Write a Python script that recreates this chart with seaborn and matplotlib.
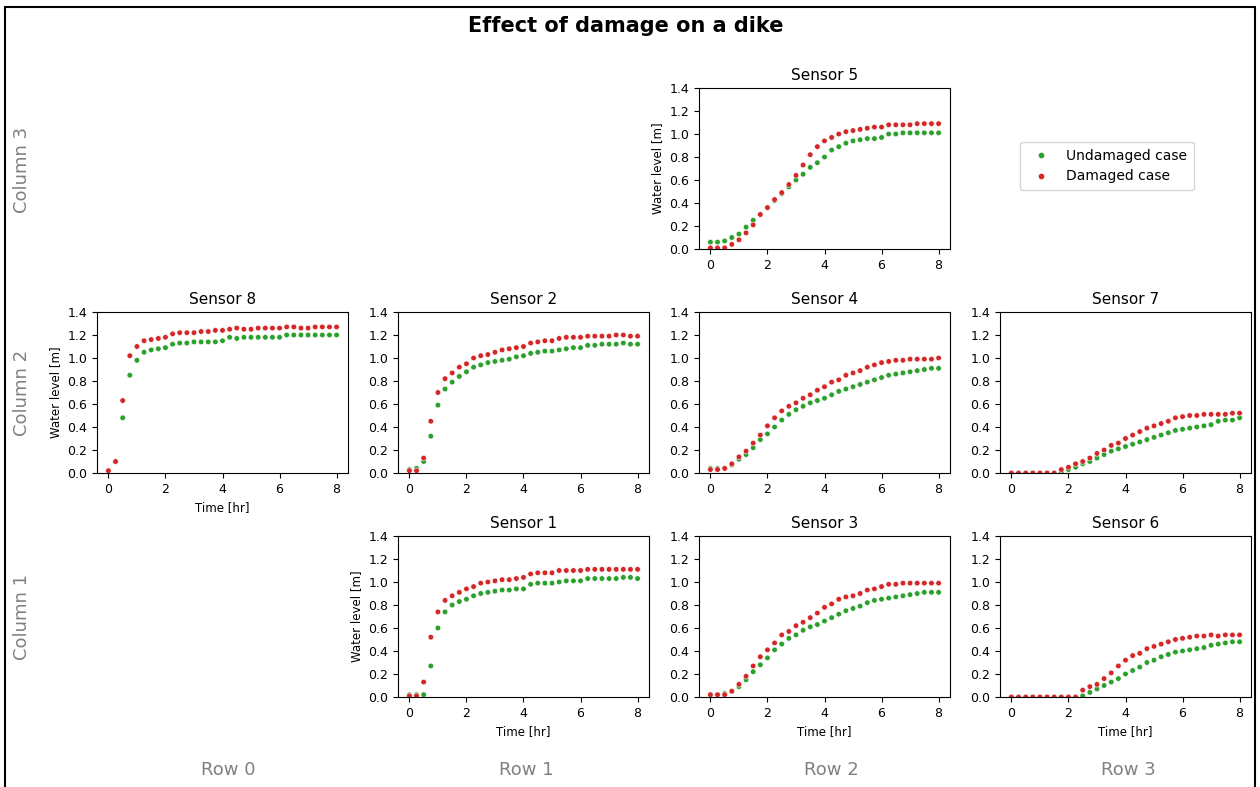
import numpy as np
import pandas as pd
import matplotlib
matplotlib.use("Agg")
import matplotlib.pyplot as plt
from matplotlib.lines import Line2D
import seaborn as sns

# Time axis (hours), sampled every 15 minutes
time_hr = np.arange(0, 8.01, 0.25)

# Water level [m] per sensor: undamaged vs damaged dike
s1_undamaged = [0.02, 0.02, 0.02, 0.27, 0.60, 0.74, 0.80, 0.83, 0.85, 0.88, 0.90, 0.91, 0.92, 0.93, 0.93, 0.94, 0.94,
                0.98, 0.99, 0.99, 0.99, 1.00, 1.01, 1.01, 1.01, 1.03, 1.03, 1.03, 1.03, 1.03, 1.04, 1.04, 1.03]
s1_damaged = [0.01, 0.01, 0.13, 0.52, 0.74, 0.84, 0.88, 0.91, 0.94, 0.96, 0.99, 1.00, 1.01, 1.02, 1.02, 1.03, 1.04,
              1.07, 1.08, 1.08, 1.08, 1.10, 1.10, 1.10, 1.10, 1.11, 1.11, 1.11, 1.11, 1.11, 1.11, 1.11, 1.11]

s2_undamaged = [0.03, 0.04, 0.10, 0.32, 0.59, 0.73, 0.79, 0.84, 0.88, 0.92, 0.94, 0.96, 0.97, 0.98, 0.99, 1.01, 1.02,
                1.04, 1.05, 1.06, 1.06, 1.07, 1.08, 1.09, 1.09, 1.11, 1.11, 1.12, 1.12, 1.12, 1.13, 1.12, 1.12]
s2_damaged = [0.02, 0.02, 0.13, 0.45, 0.70, 0.82, 0.87, 0.92, 0.95, 1.00, 1.02, 1.03, 1.05, 1.07, 1.08, 1.09, 1.10,
              1.13, 1.14, 1.15, 1.15, 1.17, 1.18, 1.18, 1.18, 1.19, 1.19, 1.19, 1.19, 1.20, 1.20, 1.19, 1.19]

s3_undamaged = [0.02, 0.02, 0.03, 0.05, 0.09, 0.15, 0.22, 0.28, 0.34, 0.41, 0.46, 0.51, 0.54, 0.58, 0.61, 0.63, 0.66,
                0.69, 0.72, 0.75, 0.77, 0.79, 0.82, 0.84, 0.85, 0.86, 0.87, 0.88, 0.89, 0.90, 0.91, 0.91, 0.91]
s3_damaged = [0.02, 0.02, 0.02, 0.05, 0.11, 0.18, 0.27, 0.35, 0.41, 0.47, 0.54, 0.57, 0.62, 0.65, 0.69, 0.73, 0.78,
              0.81, 0.85, 0.87, 0.88, 0.90, 0.93, 0.94, 0.96, 0.98, 0.98, 0.99, 0.99, 0.99, 0.99, 0.99, 0.99]

s4_undamaged = [0.04, 0.04, 0.04, 0.07, 0.12, 0.16, 0.22, 0.29, 0.34, 0.40, 0.46, 0.51, 0.55, 0.58, 0.61, 0.63, 0.65,
                0.68, 0.71, 0.73, 0.75, 0.77, 0.79, 0.81, 0.83, 0.85, 0.86, 0.87, 0.88, 0.89, 0.90, 0.91, 0.91]
s4_damaged = [0.03, 0.03, 0.04, 0.08, 0.14, 0.19, 0.26, 0.33, 0.41, 0.48, 0.54, 0.58, 0.61, 0.65, 0.68, 0.72, 0.75,
              0.79, 0.81, 0.85, 0.87, 0.89, 0.92, 0.94, 0.96, 0.97, 0.98, 0.98, 0.99, 0.99, 0.99, 0.99, 1.00]

s5_undamaged = [0.06, 0.06, 0.07, 0.10, 0.13, 0.19, 0.25, 0.30, 0.36, 0.42, 0.48, 0.54, 0.60, 0.65, 0.71, 0.75, 0.80,
                0.86, 0.89, 0.92, 0.94, 0.95, 0.96, 0.96, 0.97, 1.00, 1.00, 1.01, 1.01, 1.01, 1.01, 1.01, 1.01]
s5_damaged = [0.01, 0.01, 0.01, 0.04, 0.08, 0.14, 0.21, 0.30, 0.36, 0.43, 0.49, 0.56, 0.64, 0.73, 0.82, 0.89, 0.94,
              0.97, 1.00, 1.02, 1.03, 1.04, 1.05, 1.06, 1.06, 1.08, 1.08, 1.08, 1.08, 1.09, 1.09, 1.09, 1.09]

s6_undamaged = [0.00, 0.00, 0.00, 0.00, 0.00, 0.00, 0.00, 0.00, 0.00, 0.00, 0.01, 0.04, 0.07, 0.10, 0.13, 0.16, 0.20,
                0.23, 0.26, 0.30, 0.32, 0.35, 0.37, 0.39, 0.40, 0.41, 0.42, 0.43, 0.45, 0.46, 0.47, 0.48, 0.48]
s6_damaged = [0.00, 0.00, 0.00, 0.00, 0.00, 0.00, 0.00, 0.00, 0.00, 0.00, 0.06, 0.09, 0.11, 0.16, 0.21, 0.27, 0.32,
              0.36, 0.38, 0.42, 0.44, 0.46, 0.48, 0.50, 0.51, 0.52, 0.53, 0.53, 0.54, 0.53, 0.54, 0.54, 0.54]

s7_undamaged = [0.00, 0.00, 0.00, 0.00, 0.00, 0.00, 0.00, 0.01, 0.03, 0.05, 0.08, 0.10, 0.13, 0.16, 0.19, 0.21, 0.23,
                0.25, 0.27, 0.29, 0.31, 0.33, 0.35, 0.37, 0.38, 0.39, 0.40, 0.41, 0.42, 0.45, 0.46, 0.46, 0.48]
s7_damaged = [0.00, 0.00, 0.00, 0.00, 0.00, 0.00, 0.00, 0.03, 0.05, 0.08, 0.10, 0.13, 0.17, 0.20, 0.24, 0.26, 0.30,
              0.33, 0.36, 0.39, 0.41, 0.43, 0.45, 0.48, 0.49, 0.50, 0.50, 0.51, 0.51, 0.51, 0.51, 0.52, 0.52]

s8_undamaged = [0.02, 0.10, 0.48, 0.85, 0.98, 1.05, 1.07, 1.08, 1.09, 1.12, 1.13, 1.13, 1.14, 1.14, 1.14, 1.14, 1.15,
                1.18, 1.17, 1.18, 1.18, 1.18, 1.18, 1.18, 1.18, 1.20, 1.20, 1.20, 1.20, 1.20, 1.20, 1.20, 1.20]
s8_damaged = [0.02, 0.10, 0.63, 1.02, 1.10, 1.15, 1.16, 1.17, 1.18, 1.21, 1.22, 1.22, 1.22, 1.23, 1.23, 1.24, 1.24,
              1.25, 1.26, 1.25, 1.25, 1.26, 1.26, 1.26, 1.26, 1.27, 1.27, 1.26, 1.26, 1.27, 1.27, 1.27, 1.27]

sensor_data = {
    1: (s1_undamaged, s1_damaged),
    2: (s2_undamaged, s2_damaged),
    3: (s3_undamaged, s3_damaged),
    4: (s4_undamaged, s4_damaged),
    5: (s5_undamaged, s5_damaged),
    6: (s6_undamaged, s6_damaged),
    7: (s7_undamaged, s7_damaged),
    8: (s8_undamaged, s8_damaged),
}

case_labels = ["Undamaged case", "Damaged case"]
case_colors = ["#2ca02c", "#d62728"]
row_labels = ["Row 0", "Row 1", "Row 2", "Row 3"]
column_labels = ["Column 3", "Column 2", "Column 1"]

# Sensor placement on the dike: (grid row from top, grid column)
sensor_layout = {5: (0, 2), 8: (1, 0), 2: (1, 1), 4: (1, 2), 7: (1, 3), 1: (2, 1), 3: (2, 2), 6: (2, 3)}

sns.set_style("ticks", {"axes.edgecolor": "black", "xtick.direction": "out", "ytick.direction": "out",
                        "text.color": "black", "axes.labelcolor": "black",
                        "xtick.color": "black", "ytick.color": "black"})
plt.rcParams["xtick.major.size"] = 3.5
plt.rcParams["ytick.major.size"] = 3.5
plt.rcParams["font.family"] = ["DejaVu Sans"]

W, H = 1260, 787
fig = plt.figure(figsize=(W / 100, H / 100), dpi=100)

col_left = [97, 398, 699, 1000]
row_top = [88, 312, 536]
ax_w, ax_h = 251, 161


def frac_rect(x, y, w, h):
    return [x / W, 1 - (y + h) / H, w / W, h / H]


palette = dict(zip(case_labels, case_colors))

for sensor, (r, c) in sensor_layout.items():
    undamaged, damaged = sensor_data[sensor]
    df = pd.DataFrame({
        "Time [hr]": np.concatenate([time_hr, time_hr]),
        "Water level [m]": np.concatenate([undamaged, damaged]),
        "Case": [case_labels[0]] * len(time_hr) + [case_labels[1]] * len(time_hr),
    })
    ax = fig.add_axes(frac_rect(col_left[c], row_top[r], ax_w, ax_h))
    sns.scatterplot(data=df, x="Time [hr]", y="Water level [m]", hue="Case", palette=palette,
                    s=16, edgecolor="white", linewidth=0.4, legend=False, ax=ax)
    ax.set_ylim(0, 1.4)
    ax.set_xlim(-0.4, 8.4)
    ax.set_yticks(np.arange(0, 1.41, 0.2))
    ax.set_xticks([0, 2, 4, 6, 8])
    ax.tick_params(labelsize=9, colors="black")
    ax.set_title(f"Sensor {sensor}", fontsize=11, color="black")
    # y label only on the first panel of each row, x label only on the lowest panel of each column
    first_in_row = min(cc for (rr, cc) in sensor_layout.values() if rr == r) == c
    last_in_col = max(rr for (rr, cc) in sensor_layout.values() if cc == c) == r
    ax.set_ylabel("Water level [m]" if first_in_row else "", fontsize=8.5, color="black")
    ax.set_xlabel("Time [hr]" if last_in_col else "", fontsize=8.5, color="black")
    for s in ax.spines.values():
        s.set_linewidth(0.8)

# Legend in the free upper-right cell
handles = [Line2D([], [], marker="o", linestyle="", color=col, markeredgecolor="white",
                  markeredgewidth=0.4, markersize=4.5) for col in case_colors]
fig.legend(handles, case_labels, loc="center", bbox_to_anchor=(1107 / W, 1 - 166 / H),
           fontsize=10, frameon=True, borderpad=0.5)

# Grid annotations
for lab, y in zip(column_labels, [170, 393, 617]):
    fig.text(22 / W, 1 - y / H, lab, rotation=90, ha="center", va="center", fontsize=13, color="#808080")
for lab, x in zip(row_labels, [228, 526, 831, 1128]):
    fig.text(x / W, 1 - 770 / H, lab, ha="center", va="center", fontsize=13, color="#808080")

fig.suptitle("Effect of damage on a dike", x=626 / W, y=1 - 26 / H, va="center",
             fontsize=15, fontweight="bold", color="black")

# Figure frame
for xs, ys in [((5, 5), (7, H + 5)), ((5, 1255), (7, 7)), ((1255, 1255), (7, H + 5))]:
    fig.add_artist(Line2D([x / W for x in xs], [1 - y / H for y in ys], color="black", lw=1.5,
                          transform=fig.transFigure, clip_on=False))

fig.savefig("out.png", dpi=100)
